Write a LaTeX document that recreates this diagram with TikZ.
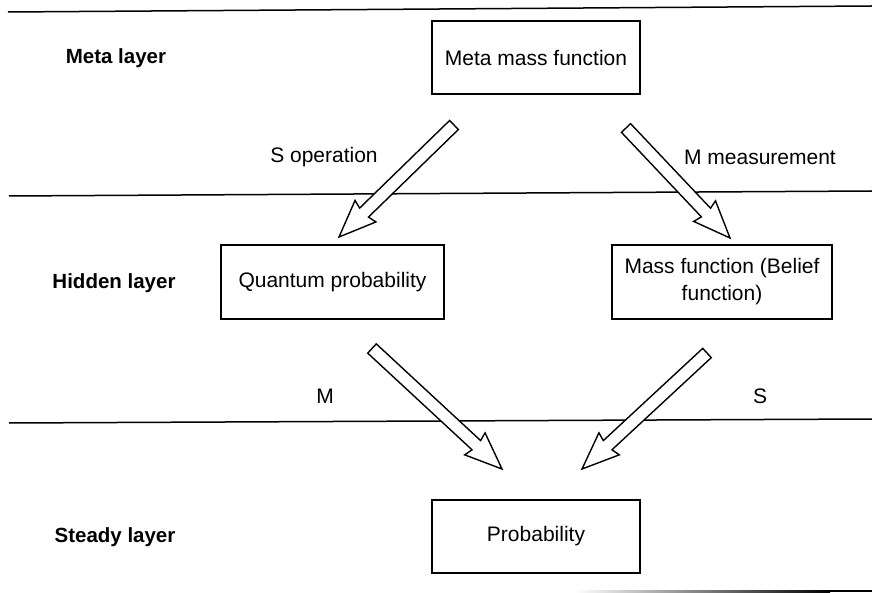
\documentclass[tikz,border=0pt]{standalone}
\usepackage{fontspec}
\setmainfont{Liberation Sans}
\usetikzlibrary{calc}
\tikzset{
  box/.style={draw, line width=1.6pt, inner sep=0pt, font=\fontsize{21}{27}\selectfont, align=center},
  lbl/.style={font=\fontsize{21}{26}\selectfont},
  layer/.style={font=\bfseries\fontsize{20.5}{24}\selectfont},
  sep/.style={line width=1.5pt},
  barrow/.style={draw, line width=1.4pt, fill=white, line join=miter}
}
\newcommand{\blockarr}[2]{%
  \coordinate (h) at ($(#2)!35pt!(#1)$);
  \coordinate (hb) at ($(#2)!37pt!(#1)$);
  \draw[barrow] ($(#1)!6.3pt!90:(#2)$) -- ($(h)!6.3pt!-90:(#1)$) -- ($(hb)!15pt!-90:(#1)$)
     -- (#2) -- ($(hb)!15pt!90:(#1)$) -- ($(h)!6.3pt!90:(#1)$) -- ($(#1)!6.3pt!-90:(#2)$) -- cycle;}
\begin{document}
\begin{tikzpicture}[x=1pt,y=-1pt]
\useasboundingbox (0,0) rectangle (872,593);
% separator lines
\coordinate (l1a) at (8,12);   \coordinate (l1b) at (872,6);
\coordinate (l2a) at (9,196); \coordinate (l2b) at (872,191);
\coordinate (l3a) at (9,423); \coordinate (l3b) at (872,419);
\draw[sep] (l1a) -- (l1b);
\draw[sep] (l2a) -- (l2b);
\draw[sep] (l3a) -- (l3b);
\shade[left color=white, right color=black] (575,590.3) rectangle (830,592.3);
\fill[black] (829.5,590.3) rectangle (872,592.3);
% layer labels
\node[layer] (meta) at (116,58) {Meta layer};
\node[layer] (hidden) at (114,283) {Hidden layer};
\node[layer] (steady) at (115,537) {Steady layer};
% boxes
\node[box, minimum width=208pt, minimum height=73pt] (mmf) at (536,57.5) {Meta mass function};
\node[box, minimum width=223pt, minimum height=74pt] (qp) at (332.5,282) {Quantum probability};
\node[box, minimum width=220pt, minimum height=74pt] (mf) at (722,282) {Mass function (Belief\\function)};
\node[box, minimum width=208pt, minimum height=73pt] (prob) at (536,536.5) {Probability};
% arrow labels
\node[lbl] (sop) at (324,157) {S operation};
\node[lbl] (mmeas) at (760,157) {M measurement};
\node[lbl] (m) at (325,396) {M};
\node[lbl] (s) at (760,396) {S};
% block arrows
\coordinate (a1t) at (454,125); \coordinate (a1h) at (339,237);
\coordinate (a2t) at (626,128); \coordinate (a2h) at (730,238);
\coordinate (a3t) at (372,348.5); \coordinate (a3h) at (502,469);
\coordinate (a4t) at (707,353); \coordinate (a4h) at (582,469);
\blockarr{a1t}{a1h}
\blockarr{a2t}{a2h}
\blockarr{a3t}{a3h}
\blockarr{a4t}{a4h}
\end{tikzpicture}
\end{document}
